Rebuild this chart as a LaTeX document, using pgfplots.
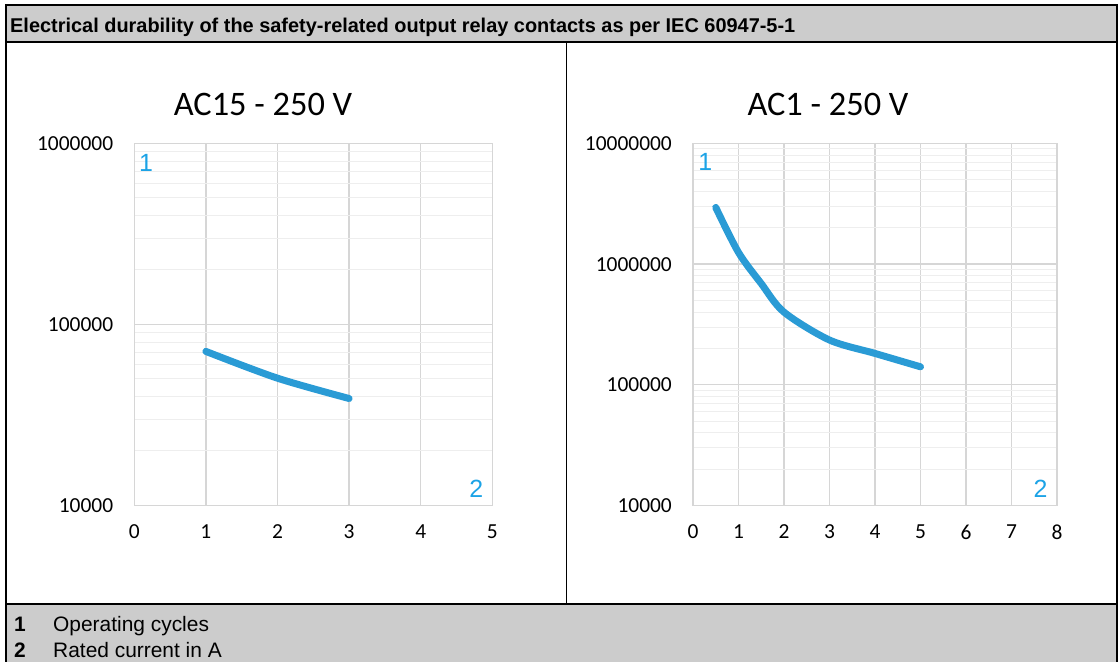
\documentclass[border=0pt]{standalone}
\usepackage{pgfplots}
\pgfplotsset{compat=1.18}
\usepackage{fontspec}
\setmainfont{Liberation Sans}
\newfontfamily\calibri{Carlito}
\definecolor{hdr}{HTML}{CCCCCC}
\definecolor{curve}{HTML}{2A9BD5}
\definecolor{lbl}{HTML}{1CA3E6}
\definecolor{gridmaj}{HTML}{D6D6D6}
\definecolor{gridmin}{HTML}{EEEEEE}
\begin{document}
\begin{tikzpicture}[x=1bp,y=1bp]
\path[use as bounding box] (0,0) rectangle (1119,662);
% header and footer
\fill[hdr] (6,657) rectangle (1117,620);
\fill[hdr] (6,58) rectangle (1117,0);
\draw[black, line width=1.5bp] (6,0) -- (6,657) -- (1117,657) -- (1117,0);
\draw[black, line width=1.5bp] (6,620) -- (1117,620);
\draw[black, line width=1.5bp] (6,58) -- (1117,58);
\draw[black, line width=1.5bp] (566.5,620) -- (566.5,58);
\node[anchor=base west, inner sep=0pt, font=\bfseries\fontsize{20}{22}\selectfont] at (10,629) {Electrical durability of the safety-related output relay contacts as per IEC 60947-5-1};
\node[anchor=base west, inner sep=0pt, font=\bfseries\fontsize{21}{24}\selectfont] at (14,30.5) {1};
\node[anchor=base west, inner sep=0pt, font=\fontsize{21}{24}\selectfont] at (53,30.5) {Operating cycles};
\node[anchor=base west, inner sep=0pt, font=\bfseries\fontsize{21}{24}\selectfont] at (14,4) {2};
\node[anchor=base west, inner sep=0pt, font=\fontsize{21}{24}\selectfont] at (53,4) {Rated current in A};
% titles
\node[font=\calibri\fontsize{34.5}{40}\selectfont] at (263,558) {AC15 - 250 V};
\node[font=\calibri\fontsize{34.5}{40}\selectfont] at (828,558) {AC1 - 250 V};
% left axis
\begin{axis}[scale only axis, ymode=log, clip=false,
  at={(134.3bp,156.5bp)}, anchor=south west, width=358bp, height=362bp,
  axis line style={draw=gridmaj, line width=1.3bp},
  grid=both,
  major grid style={draw=gridmaj, line width=1.3bp},
  minor grid style={draw=gridmin, line width=1bp},
  major tick length=0pt, minor tick length=0pt,
  tick label style={font=\calibri\fontsize{21.5}{24}\selectfont, text=black, inner sep=0pt},
  yticklabel style={anchor=east, xshift=-21bp},
  xticklabel style={anchor=north, yshift=-19bp},
  xmin=0, xmax=5, ymin=1e4, ymax=1e6,
  xtick={0,1,2,3,4,5}, xticklabels={0,1,2,3,4,5},
  ytick={1e4,1e5,1e6}, yticklabels={10000,100000,1000000}]
\addplot[draw=curve, line width=7bp, line cap=round, line join=round, smooth, mark=none] coordinates {(1,71000) (2,50500) (3,39000)};
\node[text=lbl, font=\fontsize{25}{28}\selectfont] at (rel axis cs:0.033,0.945) {1};
\node[text=lbl, font=\fontsize{25}{28}\selectfont] at (rel axis cs:0.955,0.046) {2};
\end{axis}
% right axis
\begin{axis}[scale only axis, ymode=log, clip=false,
  at={(693bp,156.5bp)}, anchor=south west, width=364bp, height=362bp,
  axis line style={draw=gridmaj, line width=1.3bp},
  grid=both,
  major grid style={draw=gridmaj, line width=1.3bp},
  minor grid style={draw=gridmin, line width=1bp},
  major tick length=0pt, minor tick length=0pt,
  tick label style={font=\calibri\fontsize{21.5}{24}\selectfont, text=black, inner sep=0pt},
  yticklabel style={anchor=east, xshift=-21bp},
  xticklabel style={anchor=north, yshift=-19bp},
  xmin=0, xmax=8, ymin=1e4, ymax=1e7,
  xtick={0,1,2,3,4,5,6,7,8}, xticklabels={0,1,2,3,4,5,6,7,8},
  ytick={1e4,1e5,1e6,1e7}, yticklabels={10000,100000,1000000,10000000}]
\addplot[draw=curve, line width=7bp, line cap=round, line join=round, smooth, mark=none] coordinates {(0.5,2950000) (1,1250000) (1.5,690000) (2,400000) (3,235000) (4,182000) (5,141000)};
\node[text=lbl, font=\fontsize{25}{28}\selectfont] at (rel axis cs:0.034,0.948) {1};
\node[text=lbl, font=\fontsize{25}{28}\selectfont] at (rel axis cs:0.955,0.046) {2};
\end{axis}
\end{tikzpicture}
\end{document}
